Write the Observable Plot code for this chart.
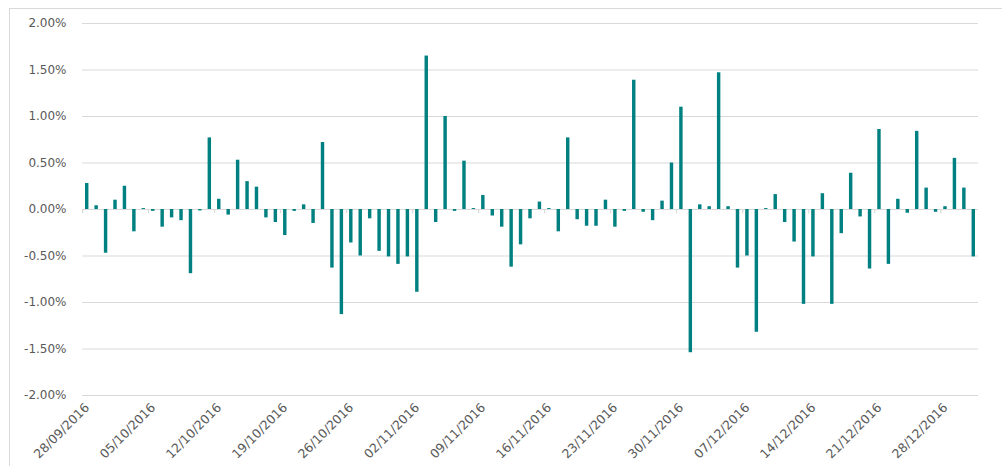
<!DOCTYPE html>
<html><head><meta charset="utf-8">
<script src="https://cdn.jsdelivr.net/npm/d3@7"></script>
<script src="https://cdn.jsdelivr.net/npm/@observablehq/plot@0.6"></script>
<style>
html,body{margin:0;padding:0;background:#fff;overflow:hidden;width:1002px;height:466px}
#frame{position:absolute;left:9px;top:8px;width:1010px;height:470px;border:1px solid #d9d9d9;box-sizing:border-box}
#chart{position:absolute;left:0;top:0}
</style></head><body>
<div id="frame"></div>
<div id="chart"></div>
<script>
// Categories: one per calendar day, 28/09/2016 .. 31/12/2016
const firstDay = "2016-09-28", dayAfterLast = "2017-01-01";
const categories = d3.utcDay.range(new Date(firstDay), new Date(dayAfterLast)).map(d3.utcFormat("%d/%m/%Y"));

// Daily returns, in percent
const returns = [
  0.28, 0.04, -0.47, 0.10, 0.25, -0.24, 0.01, -0.02, -0.19, -0.09,
  -0.12, -0.69, -0.015, 0.77, 0.11, -0.06, 0.53, 0.30, 0.24, -0.09,
  -0.14, -0.28, -0.02, 0.05, -0.15, 0.72, -0.63, -1.13, -0.36, -0.50,
  -0.10, -0.45, -0.51, -0.59, -0.51, -0.89, 1.65, -0.14, 1.00, -0.02,
  0.52, 0.01, 0.15, -0.07, -0.19, -0.62, -0.38, -0.10, 0.08, 0.01,
  -0.24, 0.77, -0.11, -0.18, -0.18, 0.10, -0.19, -0.02, 1.39, -0.03,
  -0.12, 0.09, 0.50, 1.10, -1.54, 0.05, 0.03, 1.47, 0.03, -0.63,
  -0.50, -1.32, 0.01, 0.16, -0.14, -0.35, -1.02, -0.51, 0.17, -1.02,
  -0.26, 0.39, -0.08, -0.64, 0.86, -0.59, 0.11, -0.04, 0.84, 0.23,
  -0.03, 0.03, 0.55, 0.23, -0.51
];

const xTickLabels = ["28/09/2016","05/10/2016","12/10/2016","19/10/2016","26/10/2016","02/11/2016","09/11/2016","16/11/2016","23/11/2016","30/11/2016","07/12/2016","14/12/2016","21/12/2016","28/12/2016"];
const yTicks = [-2, -1.5, -1, -0.5, 0, 0.5, 1, 1.5, 2];

const data = categories.map((c, i) => ({date: c, value: returns[i]}));

const W = 1002, H = 466, ML = 82, MR = 24, MT = 23, MB = 71;
const step = (W - ML - MR) / categories.length;

const chart = Plot.plot({
  width: W, height: H,
  marginLeft: ML, marginRight: MR, marginTop: MT, marginBottom: MB,
  style: {fontFamily: "DejaVu Sans", fontSize: "12px", color: "#595959", background: "transparent"},
  x: {type: "band", domain: categories, padding: 0, label: null},
  y: {domain: [-2, 2], label: null},
  marks: [
    Plot.gridY(yTicks, {stroke: "#d9d9d9", strokeOpacity: 1, strokeWidth: 1.2}),
    Plot.ruleX(xTickLabels, {x: d => d, y1: 0, y2: -0.045, stroke: "#d9d9d9", strokeWidth: 1.2, dx: -step / 2}),
    Plot.barY(data, {x: "date", y: "value", fill: "#008080", insetLeft: 3, insetRight: 3}),
    Plot.axisY(yTicks, {tickSize: 0, tickPadding: 16, tickFormat: d => d.toFixed(2) + "%", fill: "#595959", label: null}),
    Plot.axisX(xTickLabels, {tickSize: 0, tickRotate: -45, tickPadding: 10, fontSize: 12.5, fill: "#595959", label: null})
  ]
});
document.getElementById("chart").appendChild(chart);
</script>
</body></html>
